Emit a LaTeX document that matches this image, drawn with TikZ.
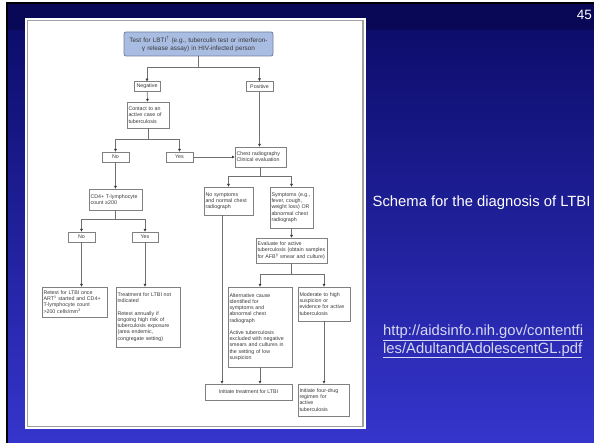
\documentclass[tikz,border=0pt]{standalone}
\usepackage{fontspec}
\setmainfont{Liberation Sans}
\usetikzlibrary{arrows.meta}
\definecolor{navytop}{HTML}{0A0A66}
\definecolor{bluebot}{HTML}{3535CC}
\definecolor{panelgray}{HTML}{A0A0A0}
\definecolor{boxgray}{HTML}{808080}
\definecolor{linegray}{HTML}{707070}
\definecolor{txtgray}{HTML}{3A3A3A}
\definecolor{topfill}{HTML}{A9BCE2}
\definecolor{topedge}{HTML}{6F7F9F}
\definecolor{urlcol}{HTML}{D8D8F2}
\tikzset{
  bx/.style={draw=boxgray, line width=0.8pt, fill=white, text=txtgray,
    font=\fontsize{5.3}{6.2}\selectfont, inner xsep=1.5pt, inner ysep=1pt,
    align=left},
  sbx/.style={draw=boxgray, line width=0.8pt, fill=white, text=txtgray,
    font=\fontsize{5.3}{6.2}\selectfont, inner sep=0.5pt, align=center},
  ln/.style={draw=linegray, line width=0.7pt},
  arr/.style={ln, -{Triangle[length=2.6pt,width=2.6pt,color=txtgray]}},
  slidetext/.style={text=white, font=\fontsize{14.8}{17}\selectfont, inner sep=0pt},
}
\begin{document}
\begin{tikzpicture}[x=1pt,y=-1pt]
\useasboundingbox (0,0) rectangle (594,443);
\fill[white] (0,0) rectangle (594,443);
\shade[top color=navytop, bottom color=bluebot] (6,3) rectangle (594,443);
\fill[navytop!85!black] (6,3) rectangle (594,30);
\fill[black] (6,2) rectangle (594,4.5);
\fill[black] (5.5,2) rectangle (8,443);
% panel
\fill[white] (25,18) rectangle (366,429);
\draw[panelgray, line width=1.2pt] (27.5,20.5) rectangle (363,426.5);
% nodes
\node[draw=topedge, line width=0.8pt, fill=topfill, text=txtgray, rounded corners=2pt,
  font=\fontsize{6.4}{8}\selectfont, align=center, text width=145pt,
  inner xsep=2pt, inner ysep=1pt, minimum height=24pt] (top) at (198.5,44)
  {Test for LBTI\textsuperscript{†} (e.g., tuberculin test or interferon-\\γ release assay) in HIV-infected person};
\node[sbx, minimum width=26pt, minimum height=9.5pt] (neg) at (147,86.5) {Negative};
\node[sbx, minimum width=27pt, minimum height=10pt] (pos) at (259.5,86.5) {Positive};
\node[bx, text width=39pt, minimum height=26pt] (contact) at (148,115) {Contact to an\\active case of\\tuberculosis};
\node[sbx, minimum width=27pt, minimum height=10pt] (no1) at (115.5,157) {No};
\node[sbx, minimum width=27pt, minimum height=10pt] (yes1) at (179.5,157) {Yes};
\node[bx, text width=48pt, minimum height=20pt] (chest) at (260.5,157) {Chest radiography\\Clinical evaluation};
\node[bx, text width=50pt, minimum height=21pt] (cd4) at (115.5,199.5) {CD4+ T-lymphocyte\\count ≥200};
\node[sbx, minimum width=27pt, minimum height=10pt] (no2) at (81.5,237) {No};
\node[sbx, minimum width=26pt, minimum height=10pt] (yes2) at (145,237) {Yes};
\node[bx, text width=62pt, minimum height=30pt] (retest) at (74.5,302)
  {Retest for LTBI once\\ART\textsuperscript{‡} started and CD4+\\T-lymphocyte count\\>200 cells/mm\textsuperscript{3}};
\node[bx, text width=61pt, minimum height=60pt] (treat) at (148,317)
  {Treatment for LTBI not\\indicated\\[6.2pt]Retest annually if\\ongoing high risk of\\tuberculosis exposure\\(area endemic,\\congregate setting)};
\node[bx, text width=46pt, minimum height=28pt] (nosym) at (228.5,201) {No symptoms\\and normal chest\\radiograph};
\node[bx, text width=40pt, minimum height=41pt] (sym) at (291.5,207.5) {Symptoms (e.g.,\\fever, cough,\\weight loss) OR\\abnormal chest\\radiograph};
\node[bx, text width=68pt, minimum height=25pt] (eval) at (291.5,250.5)
  {Evaluate for active\\tuberculosis (obtain samples\\for AFB\textsuperscript{§} smear and culture)};
\node[bx, text width=61pt, minimum height=80pt] (alt) at (260,327)
  {Alternative cause\\identified for\\symptoms and\\abnormal chest\\radiograph\\[6.2pt]Active tuberculosis\\excluded with negative\\smears and cultures in\\the setting of low\\suspicion};
\node[bx, text width=49pt, minimum height=34pt] (mod) at (324,304) {Moderate to high\\suspicion or\\evidence for active\\tuberculosis};
\node[sbx, minimum width=87pt, minimum height=16pt] (init) at (248.5,392) {Initiate treatment for LTBI};
\node[bx, text width=48pt, minimum height=32pt] (four) at (323.5,400) {Initiate four-drug\\regimen for\\active\\tuberculosis};
% connectors
\coordinate (j1) at (198.5,67);
\draw[ln] (top.south) -- (j1);
\draw[arr] (j1) -| (neg.north);
\draw[arr] (j1) -| (pos.north);
\draw[arr] (neg) -- (contact);
\coordinate (j2) at (148,139);
\draw[ln] (contact.south) -- (j2);
\draw[arr] (j2) -| (no1.north);
\draw[arr] (j2) -| (yes1.north);
\draw[arr] (yes1.east) -- (chest.west);
\draw[arr] (pos.south) -- (pos.south |- chest.north);
\draw[arr] (no1) -- (cd4);
\coordinate (j3) at (115.5,219);
\draw[ln] (cd4.south) -- (j3);
\draw[arr] (j3) -| (no2.north);
\draw[arr] (j3) -| (yes2.north);
\draw[arr] (no2.south) -- (no2.south |- retest.north);
\draw[arr] (yes2.south) -- (yes2.south |- treat.north);
\coordinate (j4) at (260.5,176);
\draw[ln] (chest.south) -- (j4);
\draw[arr] (j4) -| (nosym.north);
\draw[arr] (j4) -| (sym.north);
\draw[arr] (sym) -- (eval);
\coordinate (j5) at (291.5,274);
\draw[ln] (eval.south) -- (j5);
\draw[arr] (j5) -| (alt.north);
\draw[arr] (j5) -| (mod.north);
\coordinate (n1) at (222,215);
\draw[arr] (n1) -- (n1 |- init.north);
\draw[arr] (alt.south) -- (alt.south |- init.north);
\draw[arr] (mod.south) -- (mod.south |- four.north);
% slide texts
\node[slidetext, anchor=base east, font=\fontsize{13.5}{16}\selectfont] (num) at (592,20) {45};
\node[slidetext, anchor=base west] (title) at (372.5,206.5) {Schema for the diagnosis of LTBI};
\node[slidetext, anchor=base west, text=urlcol] (url1) at (383,336) {\underline{http://aidsinfo.nih.gov/contentfi}};
\node[slidetext, anchor=base west, text=urlcol] (url2) at (383,353) {\underline{les/AdultandAdolescentGL.pdf}};
\end{tikzpicture}
\end{document}
